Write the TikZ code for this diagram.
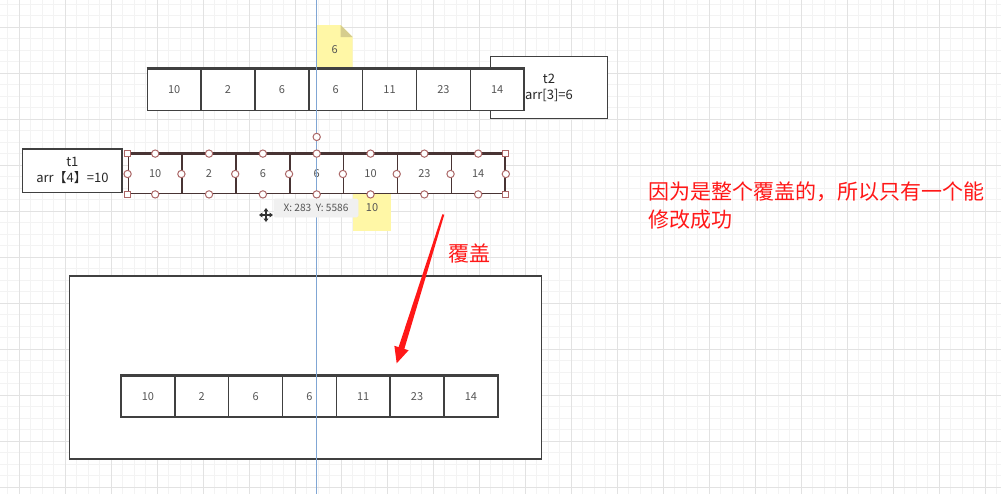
\documentclass[tikz,border=0pt]{standalone}
\usepackage{fontspec}
\setmainfont{Noto Sans CJK SC}
\usepackage{xcolor}
\usetikzlibrary{arrows.meta,calc,positioning}
\definecolor{gridminor}{RGB}{243,243,243}
\definecolor{gridmajor}{RGB}{226,226,226}
\definecolor{cellline}{RGB}{64,64,64}
\definecolor{selline}{RGB}{72,52,52}
\definecolor{gripred}{RGB}{172,104,104}
\definecolor{noteyellow}{RGB}{255,247,166}
\definecolor{notefold}{RGB}{214,205,142}
\definecolor{guideblue}{RGB}{128,166,212}
\definecolor{numgray}{RGB}{85,85,85}
\definecolor{tipgray}{RGB}{240,240,240}
\definecolor{markred}{RGB}{255,24,24}

\begin{document}
\begin{tikzpicture}[x=0.75pt, y=-0.75pt,
    cell/.style={rectangle, draw=cellline, fill=white, line width=1.1pt, minimum width=40.37pt, minimum height=31pt, inner sep=0pt, text=numgray, font=\fontsize{8.25pt}{10pt}\selectfont},
    selcell/.style={cell, draw=selline, minimum height=29.5pt},
    threadbox/.style={rectangle, draw=cellline, fill=white, line width=1.1pt, inner sep=0pt, align=center, text=black!85, font=\fontsize{9.75pt}{12pt}\selectfont},
    notetext/.style={inner sep=0pt, text=numgray, font=\fontsize{8.25pt}{10pt}\selectfont},
    grip/.style={circle, draw=gripred, fill=white, line width=0.75pt, minimum size=5.5pt, inner sep=0pt},
    gripsq/.style={rectangle, draw=gripred, fill=white, line width=0.75pt, minimum size=4.5pt, inner sep=0pt},
    redtext/.style={inner sep=0pt, text=markred, align=left, font=\fontsize{15.75pt}{21.5pt}\selectfont}
]
    \useasboundingbox (0,0) rectangle (1001,494);
    \fill[white] (0,0) rectangle (1001,494);

    % grid
    \foreach \gx in {7.5,19,...,1001} \draw[gridminor, line width=0.75pt] (\gx,0) -- (\gx,494);
    \foreach \gy in {4.3,15.8,...,494} \draw[gridminor, line width=0.75pt] (0,\gy) -- (1001,\gy);
    \foreach \gx in {19,65,...,1001} \draw[gridmajor, line width=0.75pt] (\gx,0) -- (\gx,494);
    \foreach \gy in {27.3,73.3,...,494} \draw[gridmajor, line width=0.75pt] (0,\gy) -- (1001,\gy);

    % sticky note above t2's array
    \fill[noteyellow] (316.7,25) -- (340.7,25) -- (352.7,37) -- (352.7,69.3) -- (316.7,69.3) -- cycle;
    \fill[notefold] (340.7,25) -- (340.7,37) -- (352.7,37) -- cycle;
    \node[notetext] (note6) at (334.7,49.3) {6};

    % t2
    \node[threadbox, minimum width=88pt, minimum height=46.5pt] (t2) at (549,87.7) {t2\\arr[3]=6};
    \foreach \v [count=\i] in {10,2,6,6,11,23,14}
        \node[cell] (top\i) at ({147.3+53.83*(\i-0.5)},90) {\v};
    \draw[cellline, line width=1.8pt] (top1.north west) -- (top7.north east);

    % t1
    \node[threadbox, minimum width=74.5pt, minimum height=32.5pt] (t1) at (72.4,170.7) {t1\\arr【4】=10};

    % sticky note under t1's array
    \fill[noteyellow] (353.3,185) -- (390.7,185) -- (390.7,231) -- (353.3,231) -- cycle;
    \node[notetext] (note10) at (372,207.3) {10};

    \foreach \v [count=\i] in {10,2,6,6,10,23,14}
        \node[selcell] (mid\i) at ({128.3+53.83*(\i-0.5)},174) {\v};
    \draw[selline, line width=1.9pt] (mid1.north west) -- (mid7.north east);

    % lower frame
    \node[rectangle, draw=cellline, fill=white, line width=1.1pt, minimum width=354.3pt, minimum height=137.3pt] (frame) at (305.5,367.5) {};
    \foreach \v [count=\i] in {10,2,6,6,11,23,14}
        \node[cell, minimum height=30.75pt] (low\i) at ({121+53.83*(\i-0.5)},396.5) {\v};
    \draw[cellline, line width=1.6pt] (low1.north west) -- (low7.north east);

    % red arrow
    \coordinate (covtop) at (443.3,214.5);
    \coordinate (covtip) at (396.7,363.3);
    \coordinate (covbase) at ($(covtip)!12pt!(covtop)$);
    \fill[markred] ($(covtop)!0.75pt!90:(covtip)$) -- ($(covbase)!2.25pt!90:(covtip)$)
        -- ($(covbase)!5.6pt!90:(covtip)$) -- (covtip) -- ($(covbase)!5.6pt!-90:(covtip)$)
        -- ($(covbase)!2.25pt!-90:(covtip)$) -- ($(covtop)!0.75pt!-90:(covtip)$) -- cycle;
    \node[redtext] (cover) at (469.7,253.3) {覆盖};
    \node[redtext, anchor=west] (reason) at (648.3,205.5) {因为是整个覆盖的，所以只有一个能\\修改成功};

    % guide line
    \coordinate (guidetop) at (316,0);
    \coordinate (guidebot) at (316,494);
    \draw[guideblue, line width=0.75pt] (guidetop) -- (guidebot);

    % selection handles
    \foreach \i in {1,...,7} {
        \node[grip] (gt\i) at (mid\i.north) {};
        \node[grip] (gb\i) at (mid\i.south) {};
        \node[grip] (gs\i) at (mid\i.west) {};
    }
    \node[grip] (gs8) at (mid7.east) {};
    \node[gripsq] (gnw) at (mid1.north west) {};
    \node[gripsq] (gsw) at (mid1.south west) {};
    \node[gripsq] (gne) at (mid7.north east) {};
    \node[gripsq] (gse) at (mid7.south east) {};
    \node[grip] (grot) at ([yshift=12.5pt]mid4.north) {};

    % tooltip and cursor
    \node[rectangle, fill=tipgray, draw=black!6, rounded corners=1pt, minimum width=63pt, minimum height=13.5pt, inner sep=0pt, text=numgray, font=\fontsize{7.6pt}{9pt}\selectfont] (tip) at (316,208) {X: 283\ \ Y: 5586};
    \draw[white, line width=2.2pt] (259,215) -- (273,215) (266,208) -- (266,222);
    \draw[black!80, line width=0.8pt, {Triangle[length=2.6pt,width=3.6pt]}-{Triangle[length=2.6pt,width=3.6pt]}] (259,215) -- (273,215);
    \draw[black!80, line width=0.8pt, {Triangle[length=2.6pt,width=3.6pt]}-{Triangle[length=2.6pt,width=3.6pt]}] (266,208) -- (266,222);
\end{tikzpicture}
\end{document}
